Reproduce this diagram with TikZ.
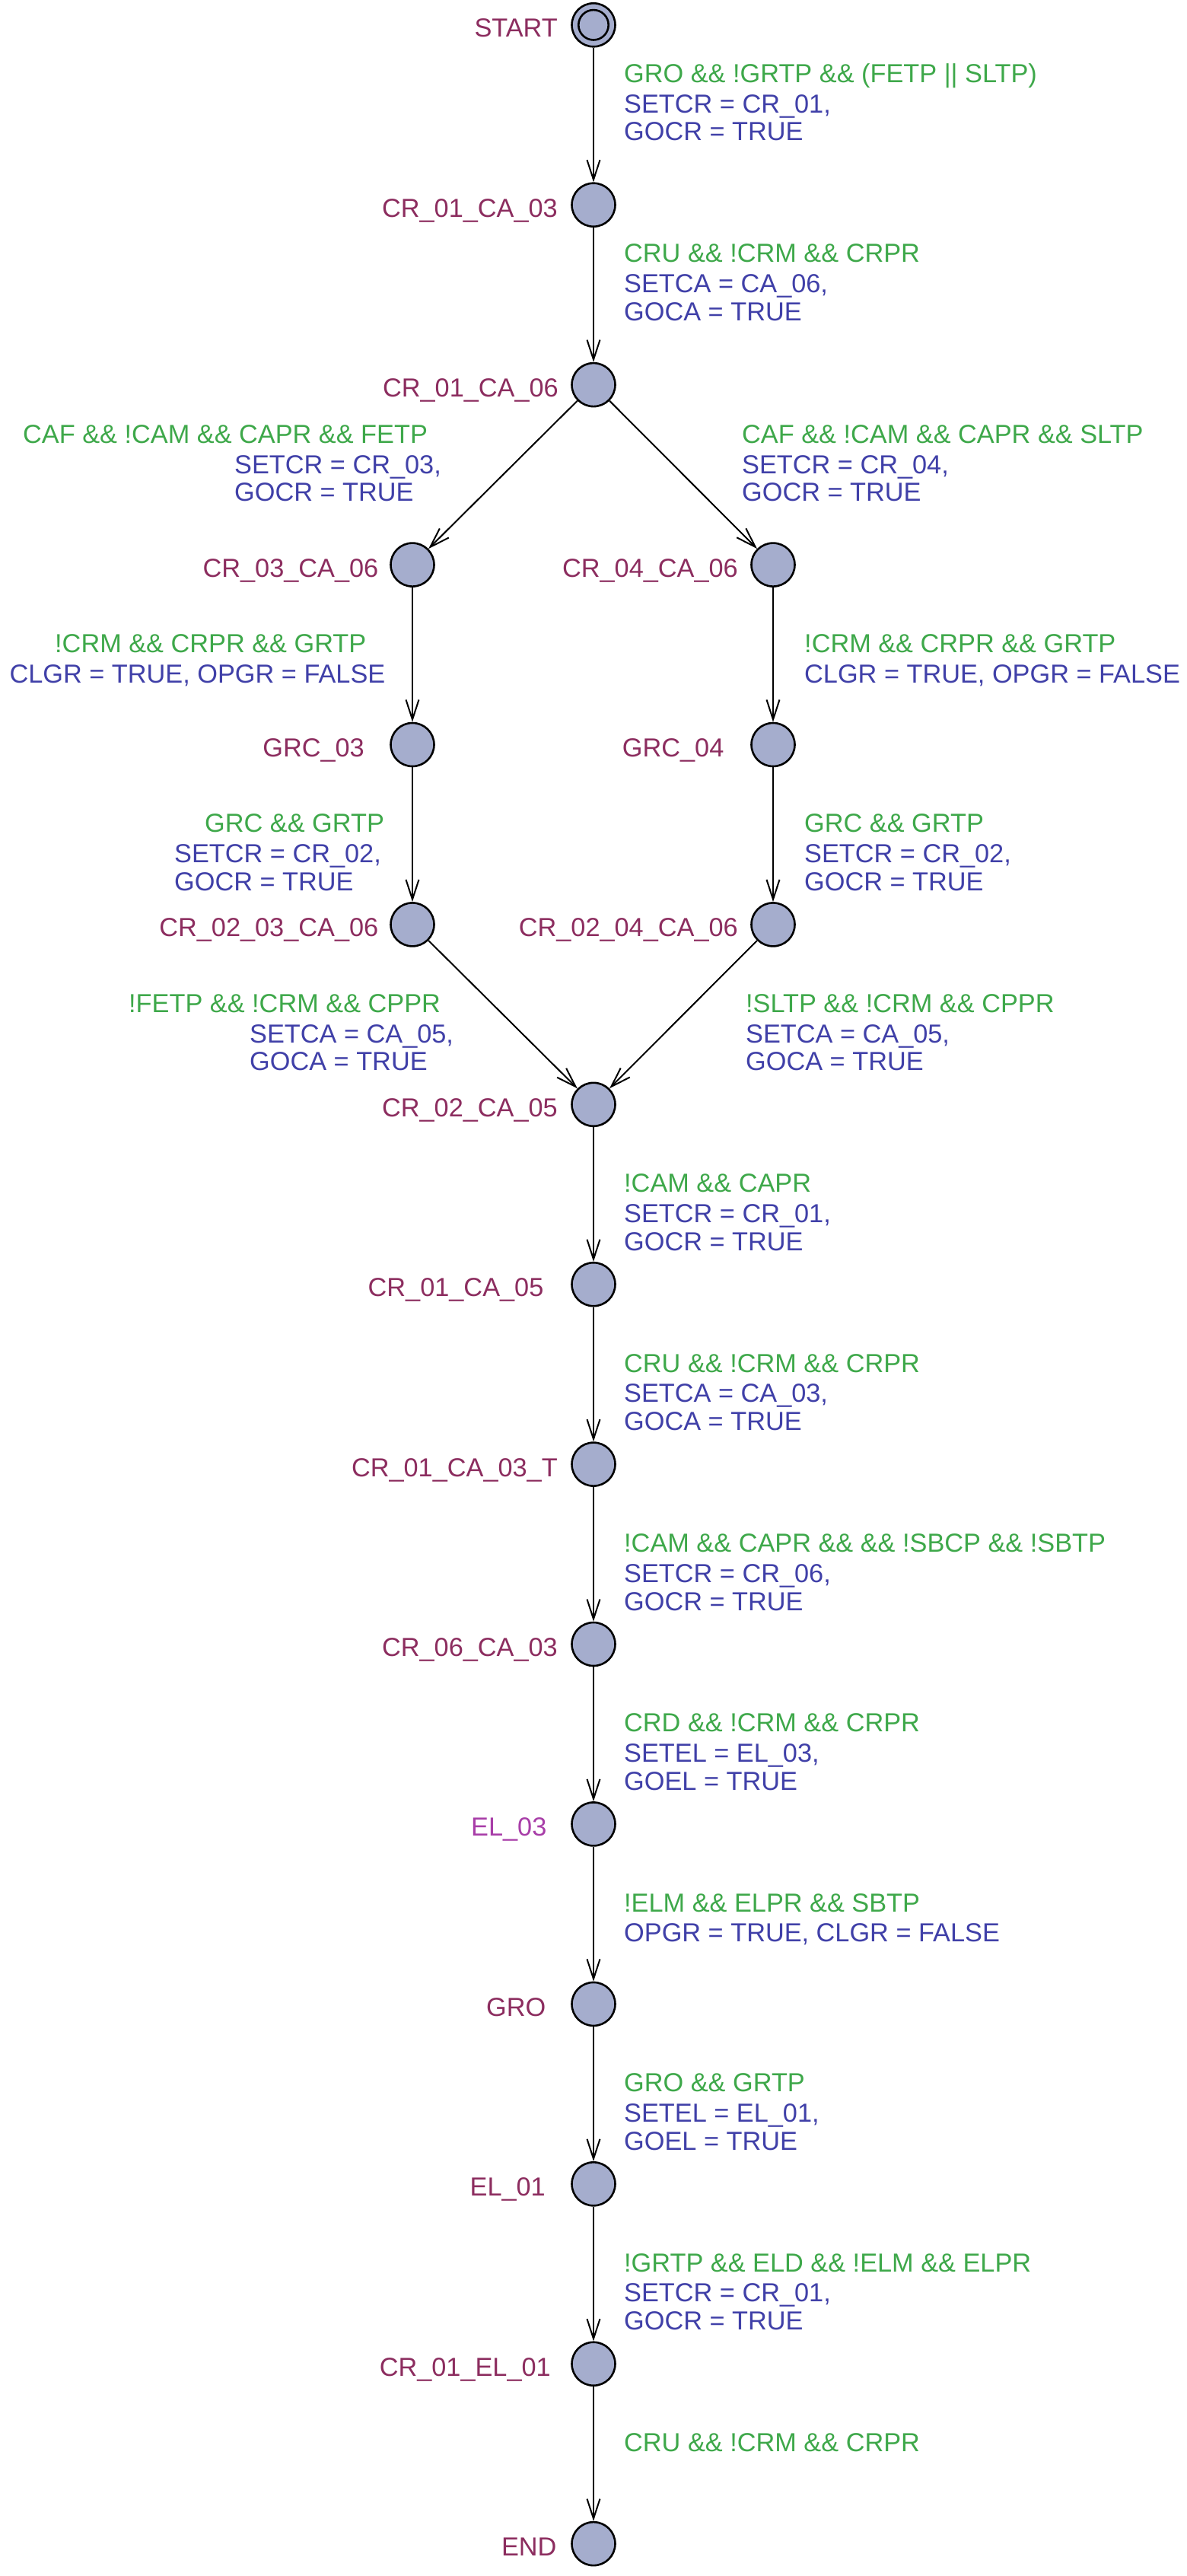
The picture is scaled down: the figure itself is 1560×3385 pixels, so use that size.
\documentclass[tikz,border=0pt]{standalone}
\usepackage{fontspec}
\setmainfont{Liberation Sans}
\usetikzlibrary{arrows.meta}
\definecolor{lnamec}{RGB}{140,45,95}
\definecolor{lmagc}{RGB}{168,62,168}
\definecolor{guardc}{RGB}{62,168,74}
\definecolor{assignc}{RGB}{64,64,168}
\definecolor{locfill}{RGB}{165,173,205}
\newcommand{\uppfont}{\fontsize{34.3pt}{37pt}\selectfont}
\begin{document}
\begin{tikzpicture}[x=1pt,y=-1pt,
  loc/.style={circle,draw=black,line width=2.6pt,fill=locfill,minimum size=57pt,inner sep=0pt},
  initring/.style={circle,draw=black,line width=2.6pt,minimum size=39.4pt,inner sep=0pt},
  trans/.style={draw=black,line width=2pt,-{Straight Barb[length=26pt,width=17pt]}},
  lname/.style={anchor=base east,inner sep=0pt,text=lnamec,font=\uppfont},
  gtext/.style={anchor=base west,inner sep=0pt,text=guardc,font=\uppfont},
  atext/.style={anchor=base west,inner sep=0pt,text=assignc,font=\uppfont}]
\useasboundingbox (0,0) rectangle (1560,3385);

% locations
\node[loc] (s0) at (780,32.8) {};
\node[initring] (s0r) at (780,32.8) {};
\node[loc] (s1) at (780,269.2) {};
\node[loc] (s2) at (780,505.6) {};
\node[loc] (s3) at (542,742.1) {};
\node[loc] (s4) at (1016,742.1) {};
\node[loc] (s5) at (542,978.5) {};
\node[loc] (s6) at (1016,978.5) {};
\node[loc] (s7) at (542,1214.9) {};
\node[loc] (s8) at (1016,1214.9) {};
\node[loc] (s9) at (780,1451.3) {};
\node[loc] (s10) at (780,1687.7) {};
\node[loc] (s11) at (780,1924.1) {};
\node[loc] (s12) at (780,2160.5) {};
\node[loc] (s13) at (780,2396.9) {};
\node[loc] (s14) at (780,2633.4) {};
\node[loc] (s15) at (780,2869.8) {};
\node[loc] (s16) at (780,3106.2) {};
\node[loc] (s17) at (780,3342.6) {};

% location names
\node[lname] (n0) at (733,48.8) {START};
\node[lname] (n1) at (733,285.2) {CR\_01\_CA\_03};
\node[lname] (n2) at (734,521.6) {CR\_01\_CA\_06};
\node[lname] (n3) at (497.5,758.1) {CR\_03\_CA\_06};
\node[lname] (n4) at (970,758.1) {CR\_04\_CA\_06};
\node[lname] (n5) at (479,994.5) {GRC\_03};
\node[lname] (n6) at (951.6,994.5) {GRC\_04};
\node[lname] (n7) at (497.5,1230.9) {CR\_02\_03\_CA\_06};
\node[lname] (n8) at (970,1230.9) {CR\_02\_04\_CA\_06};
\node[lname] (n9) at (733,1467.3) {CR\_02\_CA\_05};
\node[lname] (n10) at (714.6,1703.7) {CR\_01\_CA\_05};
\node[lname] (n11) at (733,1940.1) {CR\_01\_CA\_03\_T};
\node[lname] (n12) at (733,2176.5) {CR\_06\_CA\_03};
\node[lname,text=lmagc] (n13) at (718.6,2412.9) {EL\_03};
\node[lname] (n14) at (717.5,2649.4) {GRO};
\node[lname] (n15) at (717,2885.8) {EL\_01};
\node[lname] (n16) at (724,3122.2) {CR\_01\_EL\_01};
\node[lname] (n17) at (731.7,3358.6) {END};

% transitions
\draw[trans] (s0) -- (s1);
\draw[trans] (s1) -- (s2);
\draw[trans] (s2) -- (s3);
\draw[trans] (s2) -- (s4);
\draw[trans] (s3) -- (s5);
\draw[trans] (s4) -- (s6);
\draw[trans] (s5) -- (s7);
\draw[trans] (s6) -- (s8);
\draw[trans] (s7) -- (s9);
\draw[trans] (s8) -- (s9);
\draw[trans] (s9) -- (s10);
\draw[trans] (s10) -- (s11);
\draw[trans] (s11) -- (s12);
\draw[trans] (s12) -- (s13);
\draw[trans] (s13) -- (s14);
\draw[trans] (s14) -- (s15);
\draw[trans] (s15) -- (s16);
\draw[trans] (s16) -- (s17);

% transition labels
\node[gtext] (g1) at (820,108.3) {GRO \&\& !GRTP \&\& (FETP || SLTP)};
\node[atext] (a1a) at (820,148.3) {SETCR = CR\_01,};
\node[atext] (a1b) at (820,185) {GOCR = TRUE};

\node[gtext] (g2) at (820,344.7) {CRU \&\& !CRM \&\& CRPR};
\node[atext] (a2a) at (820,384.7) {SETCA = CA\_06,};
\node[atext] (a2b) at (820,421.4) {GOCA = TRUE};

\node[gtext] (g3) at (30,582) {CAF \&\& !CAM \&\& CAPR \&\& FETP};
\node[atext] (a3a) at (308,622) {SETCR = CR\_03,};
\node[atext] (a3b) at (308,658) {GOCR = TRUE};

\node[gtext] (g4) at (975,582) {CAF \&\& !CAM \&\& CAPR \&\& SLTP};
\node[atext] (a4a) at (975,622) {SETCR = CR\_04,};
\node[atext] (a4b) at (975,658) {GOCR = TRUE};

\node[gtext] (g5) at (72,857.1) {!CRM \&\& CRPR \&\& GRTP};
\node[atext] (a5a) at (12.4,897) {CLGR = TRUE, OPGR = FALSE};

\node[gtext] (g6) at (1057,857.1) {!CRM \&\& CRPR \&\& GRTP};
\node[atext] (a6a) at (1057,897) {CLGR = TRUE, OPGR = FALSE};

\node[gtext] (g7) at (269,1093.5) {GRC \&\& GRTP};
\node[atext] (a7a) at (229,1133.5) {SETCR = CR\_02,};
\node[atext] (a7b) at (229,1170.5) {GOCR = TRUE};

\node[gtext] (g8) at (1057,1093.5) {GRC \&\& GRTP};
\node[atext] (a8a) at (1057,1133.5) {SETCR = CR\_02,};
\node[atext] (a8b) at (1057,1170.5) {GOCR = TRUE};

\node[gtext] (g9) at (169,1330) {!FETP \&\& !CRM \&\& CPPR};
\node[atext] (a9a) at (328,1370) {SETCA = CA\_05,};
\node[atext] (a9b) at (328,1406) {GOCA = TRUE};

\node[gtext] (g10) at (980,1330) {!SLTP \&\& !CRM \&\& CPPR};
\node[atext] (a10a) at (980,1370) {SETCA = CA\_05,};
\node[atext] (a10b) at (980,1406) {GOCA = TRUE};

\node[gtext] (g11) at (820,1566.7) {!CAM \&\& CAPR};
\node[atext] (a11a) at (820,1606) {SETCR = CR\_01,};
\node[atext] (a11b) at (820,1643) {GOCR = TRUE};

\node[gtext] (g12) at (820,1803.1) {CRU \&\& !CRM \&\& CRPR};
\node[atext] (a12a) at (820,1842.5) {SETCA = CA\_03,};
\node[atext] (a12b) at (820,1879.5) {GOCA = TRUE};

\node[gtext] (g13) at (820,2039.5) {!CAM \&\& CAPR \&\& \&\& !SBCP \&\& !SBTP};
\node[atext] (a13a) at (820,2079) {SETCR = CR\_06,};
\node[atext] (a13b) at (820,2116) {GOCR = TRUE};

\node[gtext] (g14) at (820,2275.9) {CRD \&\& !CRM \&\& CRPR};
\node[atext] (a14a) at (820,2315.4) {SETEL = EL\_03,};
\node[atext] (a14b) at (820,2352.4) {GOEL = TRUE};

\node[gtext] (g15) at (820,2512.3) {!ELM \&\& ELPR \&\& SBTP};
\node[atext] (a15a) at (820,2551.8) {OPGR = TRUE, CLGR = FALSE};

\node[gtext] (g16) at (820,2748.8) {GRO \&\& GRTP};
\node[atext] (a16a) at (820,2788.3) {SETEL = EL\_01,};
\node[atext] (a16b) at (820,2825.3) {GOEL = TRUE};

\node[gtext] (g17) at (820,2985.2) {!GRTP \&\& ELD \&\& !ELM \&\& ELPR};
\node[atext] (a17a) at (820,3024.7) {SETCR = CR\_01,};
\node[atext] (a17b) at (820,3061.7) {GOCR = TRUE};

\node[gtext] (g18) at (820,3221.6) {CRU \&\& !CRM \&\& CRPR};
\end{tikzpicture}
\end{document}
